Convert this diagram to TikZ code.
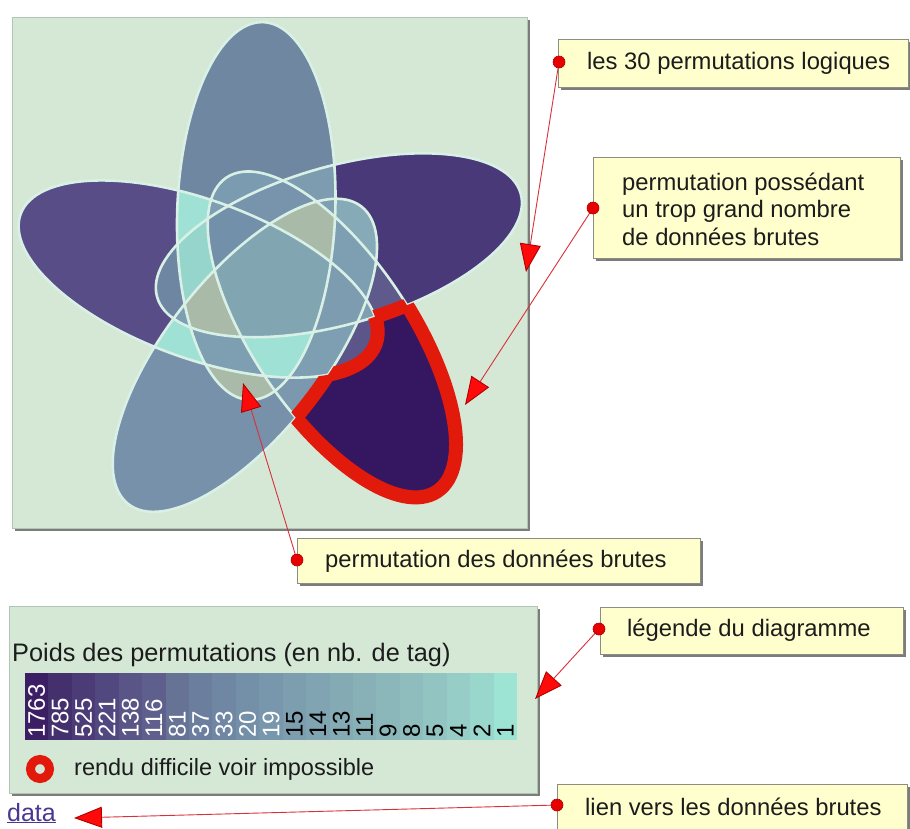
\documentclass[tikz,border=0pt]{standalone}
\usepackage{fontspec}
\setmainfont{Liberation Sans}
\usetikzlibrary{arrows.meta}
\definecolor{panelbg}{HTML}{D5E8D6}
\definecolor{panelline}{HTML}{B4C4B4}
\definecolor{shadowgray}{HTML}{7C7C7C}
\definecolor{venline}{HTML}{D9F0E6}
\definecolor{bandred}{HTML}{E21A0C}
\definecolor{noteyellow}{HTML}{FFFFCE}
\definecolor{noteline}{HTML}{8C8C80}
\definecolor{dotred}{HTML}{E60000}
\definecolor{linered}{HTML}{D9303A}
\definecolor{arrowred}{HTML}{FF0A0A}
\definecolor{arrowdark}{HTML}{B00000}
\definecolor{textdark}{HTML}{1C1C1C}
\definecolor{linkblue}{HTML}{4B3792}
% region colours
\definecolor{cA}{HTML}{6F87A0}
\definecolor{cB}{HTML}{584D86}
\definecolor{cC}{HTML}{7791AA}
\definecolor{cD}{HTML}{351660}
\definecolor{cE}{HTML}{4A3979}
\definecolor{cyanr}{HTML}{9FE2D5}
\definecolor{greyg}{HTML}{A9BBA8}
\definecolor{cAD}{HTML}{7B9BB0}
\definecolor{cAE}{HTML}{7E9CB0}
\definecolor{cBD}{HTML}{5B5589}
\definecolor{cBE}{HTML}{6F86A3}
\definecolor{cCD}{HTML}{7C98AE}
\definecolor{cCE}{HTML}{86AAB8}
\definecolor{cDE}{HTML}{5E5A8C}
\definecolor{cT}{HTML}{7E9EB1}
\definecolor{cABE}{HTML}{95D5CB}
\definecolor{cADE}{HTML}{7894AD}
\definecolor{cABDE}{HTML}{7290A9}
\definecolor{cBCDE}{HTML}{7D9CB0}
\definecolor{cAll}{HTML}{82A5B2}
% legend colours
\definecolor{lg1}{HTML}{3C1E64}
\definecolor{lg2}{HTML}{45306E}
\definecolor{lg3}{HTML}{4B3C77}
\definecolor{lg4}{HTML}{524880}
\definecolor{lg5}{HTML}{595587}
\definecolor{lg6}{HTML}{5E5F8C}
\definecolor{lg7}{HTML}{667395}
\definecolor{lg8}{HTML}{6C7E9E}
\definecolor{lg9}{HTML}{7087A3}
\definecolor{lg10}{HTML}{748FA8}
\definecolor{lg11}{HTML}{7897AC}
\definecolor{lg12}{HTML}{7C9EAF}
\definecolor{lg13}{HTML}{80A4B2}
\definecolor{lg14}{HTML}{84AAB4}
\definecolor{lg15}{HTML}{88B1B7}
\definecolor{lg16}{HTML}{8BB7BA}
\definecolor{lg17}{HTML}{8FBDBD}
\definecolor{lg18}{HTML}{92C4C1}
\definecolor{lg19}{HTML}{96CDC6}
\definecolor{lg20}{HTML}{99D7CC}
\definecolor{lg21}{HTML}{9DE4D5}

\newcommand\ellp{(256.25,211) ellipse [x radius=79pt, y radius=189pt]}
\def\clipall#1,{\ifx\relax#1\else\clip[ell=#1]\ellp;\expandafter\clipall\fi}
\newcommand\Rg[2]{\begin{scope}\clipall#2,\relax,\fill[#1] (0,0) rectangle (910,828);\end{scope}}
\newcommand\notE[1]{\clip[ell=#1] (-3000,-3000) -- (4000,-3000) -- (4000,4000) -- (-3000,4000) -- cycle \ellp;}

\begin{document}
\begin{tikzpicture}[x=1pt,y=-1pt,
  ell/.style={rotate around={72*#1:(274,285)}, rotate around={-2.1:(256.25,211)}},
  outl/.style={draw=venline, line width=2.6pt},
  redband/.style={draw=bandred, line width=14pt},
  callout/.style={fill=noteyellow, draw=noteline, line width=0.8pt},
  dotn/.style={circle, fill=dotred, draw=arrowdark, line width=0.6pt, minimum size=12pt, inner sep=0pt},
  conn/.style={draw=linered, line width=0.9pt, -{Triangle[length=28pt,width=21pt,color=arrowdark,fill=arrowred]}},
  txt/.style={font=\fontsize{23.8}{27.5}\selectfont, text=textdark, inner sep=0pt, anchor=west},
  lab/.style={font=\fontsize{24}{24}\selectfont, inner sep=0pt, anchor=west, rotate=90},
]
\useasboundingbox (0,0) rectangle (910,828);
\fill[white] (0,0) rectangle (910,828);

% ---------- main panel ----------
\fill[shadowgray] (15,20) rectangle (530,531);
\fill[panelbg, draw=panelline, line width=0.6pt] (12,17) rectangle (527,528);

% single sets
\foreach \k/\c in {0/cA,1/cB,2/cC,3/cD,4/cE} \fill[\c, ell=\k] \ellp;
% pairs
\Rg{cyanr}{0,1}
\Rg{greyg}{0,2}
\Rg{cAD}{0,3}
\Rg{cAE}{0,4}
\Rg{cyanr}{1,2}
\Rg{cBD}{1,3}
\Rg{cBE}{1,4}
\Rg{cCD}{2,3}
\Rg{cCE}{2,4}
\Rg{cDE}{3,4}
% triples
\Rg{cT}{0,1,2}
\Rg{cT}{0,1,3}
\Rg{cABE}{0,1,4}
\Rg{cT}{0,2,3}
\Rg{cT}{0,2,4}
\Rg{cADE}{0,3,4}
\Rg{cT}{1,2,3}
\Rg{cT}{1,2,4}
\Rg{cT}{1,3,4}
\Rg{cT}{2,3,4}
% quadruples
\Rg{cyanr}{0,1,2,3}
\Rg{greyg}{0,1,2,4}
\Rg{cABDE}{0,1,3,4}
\Rg{greyg}{0,2,3,4}
\Rg{cBCDE}{1,2,3,4}
% all five
\Rg{cAll}{0,1,2,3,4}
% outlines
\foreach \k in {0,...,4} \draw[outl, ell=\k] \ellp;
% red band round the D-only region
\begin{scope}\notE{0}\notE{1}\notE{2}\notE{4}\draw[redband, ell=3] \ellp;\end{scope}
\begin{scope}\clip[ell=3]\ellp;\notE{0}\notE{2}\notE{4}\draw[redband, ell=1] \ellp;\end{scope}
\begin{scope}\clip[ell=3]\ellp;\notE{0}\notE{1}\notE{4}\draw[redband, ell=2] \ellp;\end{scope}
\begin{scope}\clip[ell=3]\ellp;\notE{0}\notE{1}\notE{2}\draw[redband, ell=4] \ellp;\end{scope}

% ---------- legend panel ----------
\fill[shadowgray] (12,609) rectangle (540,796);
\fill[panelbg, draw=panelline, line width=0.6pt] (9,606) rectangle (537,793);
\node[font=\fontsize{25.3}{29}\selectfont, text=textdark, inner sep=0pt, anchor=west] (ltitle) at (12,655) {Poids des permutations (en nb. de tag)};
\foreach \c/\l/\t [count=\i from 0] in {lg1/1763/white, lg2/785/white, lg3/525/white, lg4/221/white, lg5/138/white, lg6/116/white, lg7/81/white, lg8/37/white, lg9/33/white, lg10/20/white, lg11/19/white, lg12/15/black, lg13/14/black, lg14/13/black, lg15/11/black, lg16/9/black, lg17/8/black, lg18/5/black, lg19/4/black, lg20/2/black, lg21/1/black}{
  \fill[\c] ({25+\i*23.43},673) rectangle ({25+\i*23.43+23.6},740);
  \node[lab, text=\t] (lab\i) at ({25+\i*23.43+11.7},738) {\l};
}
\node[circle, draw=bandred, line width=9pt, minimum size=19pt, inner sep=0pt] (ring) at (40,769) {};
\node[font=\fontsize{23.5}{27}\selectfont, text=textdark, inner sep=0pt, anchor=west] (ringtext) at (74,769) {rendu difficile voir impossible};

% data link
\node[font=\fontsize{25}{28}\selectfont, text=linkblue, inner sep=0pt, anchor=base west] (data) at (7,821) {\underline{data}};

% ---------- callouts ----------
\fill[shadowgray] (561,42) rectangle (911,90);
\node[callout, minimum width=350pt, minimum height=48pt, anchor=north west] (box1) at (558,39) {};
\node[txt] (n1) at (587,63) {les 30 permutations logiques};

\fill[shadowgray] (596,160) rectangle (903,261);
\node[callout, minimum width=307pt, minimum height=101pt, anchor=north west] (box2) at (593,157) {};
\node[txt, align=left] (n2) at (622,209) {permutation possédant\\un trop grand nombre\\de données brutes};

\fill[shadowgray] (300,541) rectangle (703,586);
\node[callout, minimum width=403pt, minimum height=45pt, anchor=north west] (box3) at (297,538) {};
\node[txt] (n3) at (325,561) {permutation des données brutes};

\fill[shadowgray] (603,610) rectangle (906,657);
\node[callout, minimum width=303pt, minimum height=47pt, anchor=north west] (box4) at (600,607) {};
\node[txt] (n4) at (627,630) {légende du diagramme};

\fill[shadowgray] (560,787) rectangle (911,835);
\node[callout, minimum width=350pt, minimum height=47pt, anchor=north west] (box5) at (557,784) {};
\node[txt] (n5) at (585,807) {lien vers les données brutes};

% connectors
\coordinate (t1) at (526,272);
\coordinate (t2) at (465,405);
\coordinate (t3) at (243,383);
\coordinate (t4) at (535,699);
\coordinate (t5) at (74,818);
\coordinate (p1) at (559,62);
\coordinate (p2) at (593,208);
\coordinate (p3) at (297,560);
\coordinate (p4) at (599,629);
\coordinate (p5) at (557,805);
\draw[conn] (p1) -- (t1);
\draw[conn] (p2) -- (t2);
\draw[conn] (p3) -- (t3);
\draw[conn] (p4) -- (t4);
\draw[conn] (p5) -- (t5);
\node[dotn] (d1) at (p1) {};
\node[dotn] (d2) at (p2) {};
\node[dotn] (d3) at (p3) {};
\node[dotn] (d4) at (p4) {};
\node[dotn] (d5) at (p5) {};
\end{tikzpicture}
\end{document}
